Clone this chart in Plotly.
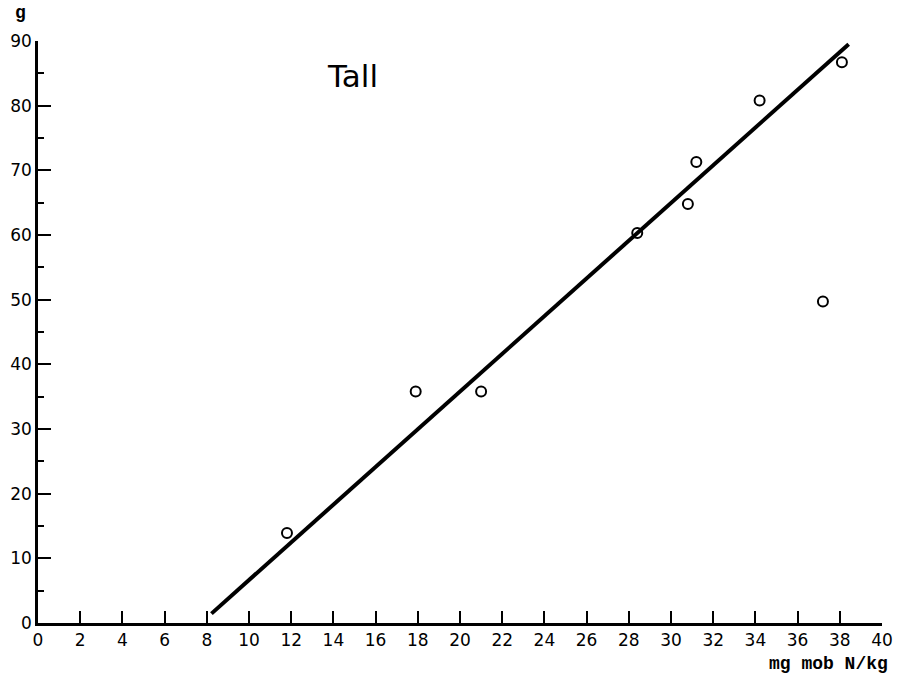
import plotly.graph_objects as go

# Measured points: mobile N (mg/kg) vs yield (g)
mob_n = [11.8, 17.9, 21.0, 28.4, 30.8, 31.2, 34.2, 37.2, 38.1]
yield_g = [13.9, 35.8, 35.8, 60.3, 64.8, 71.3, 80.8, 49.7, 86.7]

# Fitted regression line endpoints
line_x = [8.22, 38.42]
line_y = [1.45, 89.5]

x_ticks = list(range(0, 41, 2))
y_ticks = list(range(0, 91, 10))

TICK_FONT = dict(family="DejaVu Sans, Verdana, sans-serif", size=17, color="black")

fig = go.Figure()

fig.add_trace(go.Scatter(
    x=line_x, y=line_y, mode="lines",
    line=dict(color="black", width=4),
    showlegend=False, hoverinfo="skip",
))

fig.add_trace(go.Scatter(
    x=mob_n, y=yield_g, mode="markers",
    marker=dict(symbol="circle-open", size=10, color="black",
                line=dict(color="black", width=2)),
    showlegend=False,
))

ML, MR, MT, MB = 34, 10, 41, 50
W, H = 903, 673

fig.update_layout(
    width=W, height=H,
    margin=dict(l=ML, r=MR, t=MT, b=MB),
    paper_bgcolor="white", plot_bgcolor="white",
    xaxis=dict(
        range=[0, 40], tickvals=x_ticks, ticktext=[str(v) for v in x_ticks],
        ticks="inside", ticklen=12, tickwidth=2, tickcolor="black",
        showline=True, linecolor="black", linewidth=2.5,
        showgrid=False, zeroline=False, tickfont=TICK_FONT,
        ticklabeloverflow="allow",
    ),
    yaxis=dict(
        range=[0, 90], tickvals=y_ticks, ticktext=[str(v) for v in y_ticks],
        ticks="inside", ticklen=13, tickwidth=2, tickcolor="black",
        showline=True, linecolor="black", linewidth=2.5,
        showgrid=False, zeroline=False, tickfont=TICK_FONT,
        ticklabeloverflow="allow",
        minor=dict(tickvals=[5, 15, 25, 35, 45, 55, 65, 75, 85],
                   ticks="inside", ticklen=6, tickwidth=2, tickcolor="black"),
    ),
    annotations=[
        dict(text="Tall", x=13.6, y=84.6, xref="x", yref="y",
             showarrow=False, xanchor="left", yanchor="middle",
             font=dict(family="DejaVu Sans, Verdana, sans-serif", size=31, color="black")),
        dict(text="<b>g</b>", x=16, y=13, xref="paper", yref="paper",
             showarrow=False, xanchor="center", yanchor="middle",
             font=dict(family="Liberation Mono, Courier New, monospace", size=18, color="black")),
        dict(text="<b>mg mob N/kg</b>", x=901, y=664, xref="paper", yref="paper",
             showarrow=False, xanchor="right", yanchor="middle",
             font=dict(family="Liberation Mono, Courier New, monospace", size=18, color="black")),
    ],
)

# Convert the pixel-positioned annotations to paper coordinates
plot_w = W - ML - MR
plot_h = H - MT - MB
for ann in fig.layout.annotations:
    if ann.xref == "paper":
        px, py = ann.x, ann.y
        ann.x = (px - ML) / plot_w
        ann.y = 1 - (py - MT) / plot_h

fig.write_html("out.html")
